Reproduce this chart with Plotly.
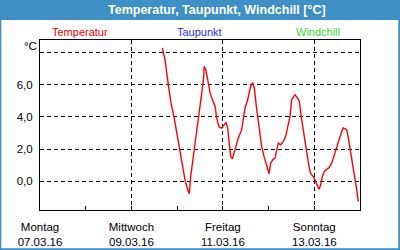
import plotly.graph_objects as go

# Temperature series (time, °C)
times = [
    "2016-03-09 16:13", "2016-03-09 17:38", "2016-03-09 19:21", "2016-03-09 20:47", "2016-03-09 22:21",
    "2016-03-10 00:05", "2016-03-10 01:08", "2016-03-10 02:42", "2016-03-10 04:17", "2016-03-10 05:51",
    "2016-03-10 06:23", "2016-03-10 07:07", "2016-03-10 08:29", "2016-03-10 09:44", "2016-03-10 11:06",
    "2016-03-10 12:32", "2016-03-10 13:44", "2016-03-10 14:15", "2016-03-10 14:59", "2016-03-10 16:03",
    "2016-03-10 17:15", "2016-03-10 18:34", "2016-03-10 19:53", "2016-03-10 20:46", "2016-03-10 21:59",
    "2016-03-10 23:23", "2016-03-11 00:36", "2016-03-11 01:39", "2016-03-11 02:32", "2016-03-11 03:23",
    "2016-03-11 04:07", "2016-03-11 04:58", "2016-03-11 05:51", "2016-03-11 06:54", "2016-03-11 08:07",
    "2016-03-11 09:53", "2016-03-11 10:44", "2016-03-11 11:38", "2016-03-11 12:50", "2016-03-11 13:53",
    "2016-03-11 14:47", "2016-03-11 15:40", "2016-03-11 16:31", "2016-03-11 17:46", "2016-03-11 19:08",
    "2016-03-11 20:23", "2016-03-11 21:36", "2016-03-11 23:01", "2016-03-12 00:14", "2016-03-12 01:07",
    "2016-03-12 02:10", "2016-03-12 03:23", "2016-03-12 04:16", "2016-03-12 05:07", "2016-03-12 06:22",
    "2016-03-12 07:44", "2016-03-12 08:59", "2016-03-12 10:02", "2016-03-12 11:15", "2016-03-12 12:08",
    "2016-03-12 12:59", "2016-03-12 13:53", "2016-03-12 15:05", "2016-03-12 16:08", "2016-03-12 17:23",
    "2016-03-12 18:46", "2016-03-12 20:01", "2016-03-12 21:14", "2016-03-12 22:07", "2016-03-12 23:29",
    "2016-03-13 00:23", "2016-03-13 01:47", "2016-03-13 02:29", "2016-03-13 03:22", "2016-03-13 04:13",
    "2016-03-13 05:16", "2016-03-13 06:31", "2016-03-13 07:44", "2016-03-13 09:08", "2016-03-13 10:31",
    "2016-03-13 11:46", "2016-03-13 12:59", "2016-03-13 14:23", "2016-03-13 15:14", "2016-03-13 17:01",
    "2016-03-13 17:52", "2016-03-13 18:45", "2016-03-13 19:58", "2016-03-13 21:01", "2016-03-13 21:44",
    "2016-03-13 22:26", "2016-03-13 23:07",
]
temperatur = [
    8.31, 7.58, 6.02, 4.87, 4.00,
    2.79, 1.96, 0.91, -0.02, -0.65,
    -0.79, 0.29, 1.54, 2.58, 4.00,
    5.19, 6.23, 7.16, 6.96, 6.33,
    5.50, 5.08, 4.66, 3.94, 3.37,
    3.31, 3.52, 3.66, 3.31, 2.16,
    1.54, 1.39, 1.75, 2.27, 2.69,
    3.21, 3.83, 4.56, 4.98, 5.50,
    6.02, 6.12, 5.81, 4.46, 3.21,
    2.16, 1.54, 1.02, 0.46, 1.12,
    1.33, 1.44, 1.96, 2.37, 2.27,
    2.48, 2.79, 3.31, 4.04, 5.08,
    5.25, 5.39, 5.19, 4.98, 3.83,
    2.79, 1.64, 0.91, 0.46, 0.29,
    0.05, -0.33, -0.50, -0.23, 0.29,
    0.60, 0.71, 0.85, 1.12, 1.64,
    2.16, 2.69, 3.10, 3.31, 3.21,
    2.69, 2.06, 1.33, 0.60, 0.08,
    -0.65, -1.28,
]

x_tick_vals = ["2016-03-07", "2016-03-09", "2016-03-11", "2016-03-13"]
x_tick_text = ["Montag<br>07.03.16", "Mittwoch<br>09.03.16", "Freitag<br>11.03.16", "Sonntag<br>13.03.16"]
y_tick_vals = [0, 2, 4, 6, 8]
y_tick_text = ["0,0", "2,0", "4,0", "6,0", ""]
series_names = ["Temperatur", "Taupunkt", "Windchill"]
series_colors = ["#ff0000", "#2a2aff", "#33dd33"]
title_text = "Temperatur, Taupunkt, Windchill [°C]"

W, H = 400, 250
ML, MR, MT, MB = 40, 40, 40, 40
PW, PH = W - ML - MR, H - MT - MB


def px(xp):
    return (xp - ML) / PW


def py(yp):
    return (H - MB - yp) / PH


FONT = "Liberation Sans"
BLUE = "#3d8fc6"

fig = go.Figure()
fig.add_trace(go.Scatter(x=times, y=temperatur, mode="lines",
                         line=dict(color=series_colors[0], width=1.4),
                         showlegend=False, hoverinfo="skip"))

shapes = [
    dict(type="rect", xref="paper", yref="paper", x0=px(0), x1=px(400), y0=py(20), y1=py(0),
         fillcolor=BLUE, line=dict(width=0), layer="below"),
    dict(type="rect", xref="paper", yref="paper", x0=px(0), x1=px(1.3), y0=py(250), y1=py(0),
         fillcolor=BLUE, line=dict(width=0), layer="below"),
    dict(type="rect", xref="paper", yref="paper", x0=px(398.3), x1=px(400), y0=py(250), y1=py(0),
         fillcolor=BLUE, line=dict(width=0), layer="below"),
    dict(type="rect", xref="paper", yref="paper", x0=px(0), x1=px(400), y0=py(250), y1=py(248.3),
         fillcolor=BLUE, line=dict(width=0), layer="below"),
]

annotations = [
    dict(text="<b>" + title_text + "</b>", x=px(217), y=py(10.5), xref="paper", yref="paper",
         showarrow=False, xanchor="center", yanchor="middle",
         font=dict(family="Liberation Sans", size=12.5, color="white")),
    dict(text="°C", x=px(30), y=py(46), xref="paper", yref="paper", showarrow=False,
         xanchor="center", yanchor="middle", font=dict(family=FONT, size=11.5, color="black")),
]
for name, col, cx in zip(series_names, series_colors, [80, 199, 318]):
    annotations.append(dict(text=name, x=px(cx), y=py(32), xref="paper", yref="paper",
                            showarrow=False, xanchor="center", yanchor="middle",
                            font=dict(family=FONT, size=11, color=col)))

fig.update_layout(
    width=W, height=H,
    margin=dict(l=ML, r=MR, t=MT, b=MB, pad=0, autoexpand=False),
    paper_bgcolor="white", plot_bgcolor="white",
    shapes=shapes, annotations=annotations,
    font=dict(family=FONT, size=11, color="black"),
    xaxis=dict(
        type="date", range=["2016-03-07", "2016-03-14"], automargin=False,
        tickmode="array", tickvals=x_tick_vals, ticktext=x_tick_text,
        ticks="inside", ticklen=4, tickcolor="black", tickwidth=1,
        showgrid=True, gridcolor="black", griddash="4px,3px", gridwidth=1,
        showline=True, linecolor="black", linewidth=1, mirror=True,
        zeroline=False, tickfont=dict(family=FONT, size=11.5, color="black"),
        ticklabelstandoff=6,
        minor=dict(ticks="inside", ticklen=4, tickcolor="black", dtick=86400000,
                   tick0="2016-03-07", showgrid=False),
    ),
    yaxis=dict(
        range=[-1.8, 8.8], automargin=False,
        tickmode="array", tickvals=y_tick_vals, ticktext=y_tick_text,
        ticks="", showgrid=True, gridcolor="black", griddash="4px,3px", gridwidth=1,
        showline=True, linecolor="black", linewidth=1, mirror=True, zeroline=False,
        tickfont=dict(family=FONT, size=11.5, color="black"), ticklabelstandoff=4,
    ),
)

fig.write_html("out.html")
